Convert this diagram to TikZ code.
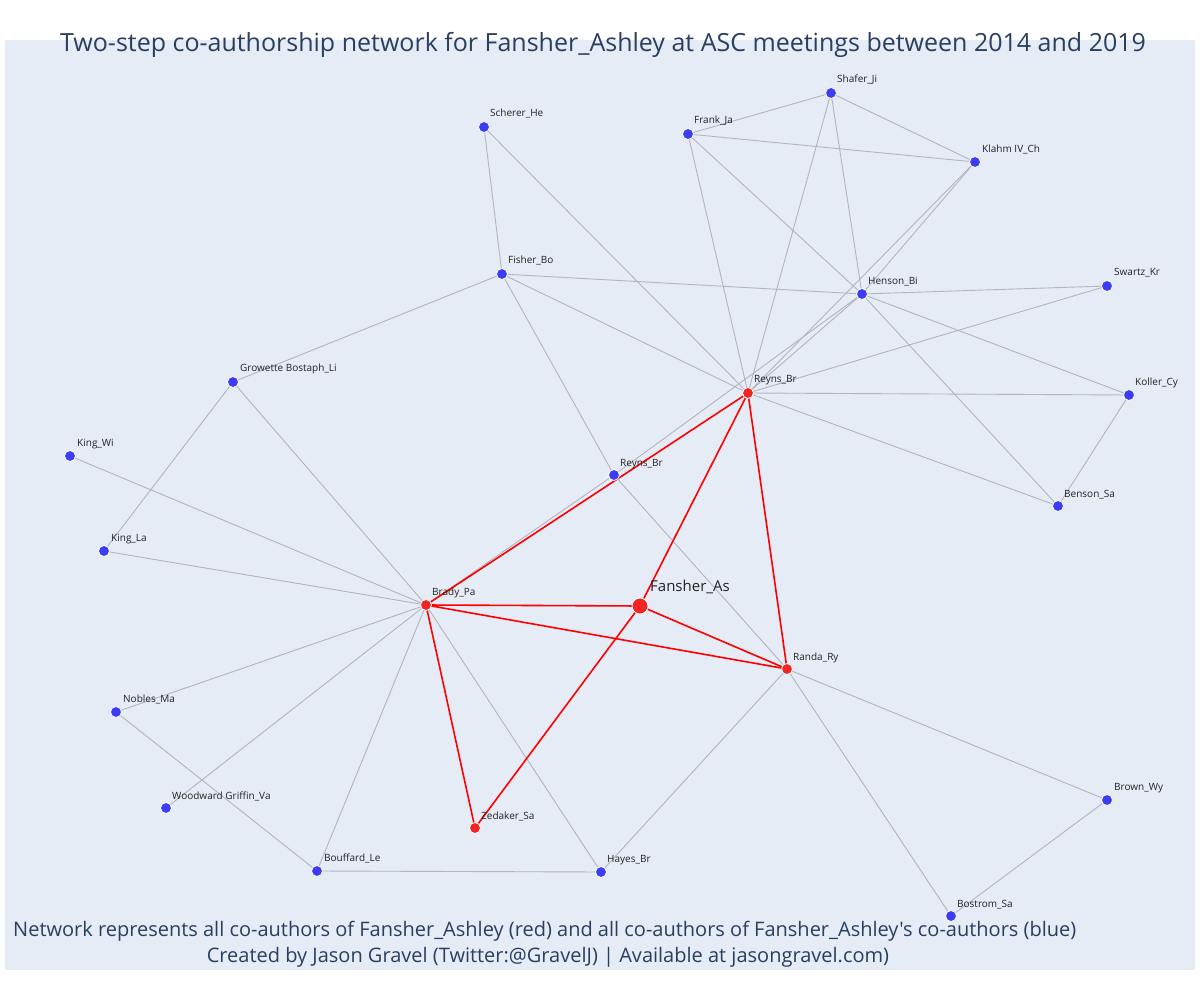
\documentclass[tikz,border=0pt]{standalone}
\usepackage{fontspec}
\setmainfont{Open Sans}[Ligatures=TeXOff]
\definecolor{bgcol}{HTML}{E5ECF6}
\definecolor{titlecol}{HTML}{2A3F5F}
\definecolor{edgegray}{RGB}{178,180,192}
\definecolor{bluenode}{RGB}{60,60,242}
\definecolor{rednode}{RGB}{242,36,36}
\definecolor{labcol}{HTML}{222222}
\pgfdeclarelayer{bg}
\pgfdeclarelayer{edges}
\pgfsetlayers{bg,edges,main}
\tikzset{
  bnode/.style={circle, fill=bluenode, draw=white, line width=0.8pt, minimum size=11pt, inner sep=0pt},
  rnode/.style={circle, fill=rednode, draw=white, line width=0.8pt, minimum size=11pt, inner sep=0pt},
  bignode/.style={circle, fill=rednode, draw=white, line width=0.8pt, minimum size=16pt, inner sep=0pt},
  lab/.style={anchor=base west, inner sep=0pt, text=labcol, font=\fontsize{10}{12}\selectfont},
  biglab/.style={anchor=base west, inner sep=0pt, text=labcol, font=\fontsize{15}{18}\selectfont},
  gedge/.style={draw=edgegray, line width=0.9pt},
  redge/.style={draw=red, line width=1.6pt},
  foot/.style={inner sep=0pt, text=titlecol, font=\fontsize{20}{24}\selectfont}
}
\begin{document}
\begin{tikzpicture}[x=1pt,y=-1pt]
\useasboundingbox (0,0) rectangle (1200,1000);
\begin{pgfonlayer}{bg}
\fill[bgcol] (5,40) rectangle (1195,970);
\end{pgfonlayer}
\node[text=titlecol, inner sep=0pt, font=\fontsize{25}{30}\selectfont] (title) at (603,45) {Two-step co-authorship network for Fansher\_Ashley at ASC meetings between 2014 and 2019};

% nodes
\node[bnode] (shafer) at (831,93) {};
\node[bnode] (scherer) at (484,127) {};
\node[bnode] (frank) at (688,134) {};
\node[bnode] (klahm) at (975,162) {};
\node[bnode] (fisher) at (502,274) {};
\node[bnode] (henson) at (862,294) {};
\node[bnode] (swartz) at (1107,286) {};
\node[bnode] (growette) at (233,382) {};
\node[rnode] (reynsr) at (748,393) {};
\node[bnode] (koller) at (1129,395) {};
\node[bnode] (kingwi) at (70,456) {};
\node[bnode] (reynsb) at (614,475) {};
\node[bnode] (benson) at (1058,506) {};
\node[bnode] (kingla) at (104,551) {};
\node[rnode] (brady) at (426,605) {};
\node[bignode] (fansher) at (640,606) {};
\node[rnode] (randa) at (787,669) {};
\node[bnode] (nobles) at (116,712) {};
\node[bnode] (brown) at (1107,800) {};
\node[bnode] (woodward) at (166,808) {};
\node[rnode] (zedaker) at (475,828) {};
\node[bnode] (bouffard) at (317,871) {};
\node[bnode] (hayes) at (601,872) {};
\node[bnode] (bostrom) at (951,916) {};

% labels
\node[lab] (lshafer) at (837,83) {Shafer\_Ji};
\node[lab] (lscherer) at (490,117) {Scherer\_He};
\node[lab] (lfrank) at (694,124) {Frank\_Ja};
\node[lab] (lklahm) at (982,153) {Klahm IV\_Ch};
\node[lab] (lfisher) at (508,264) {Fisher\_Bo};
\node[lab] (lhenson) at (868,285) {Henson\_Bi};
\node[lab] (lswartz) at (1114,276) {Swartz\_Kr};
\node[lab] (lgrowette) at (240,372) {Growette Bostaph\_Li};
\node[lab] (lreynsr) at (754,383) {Reyns\_Br};
\node[lab] (lkoller) at (1135,385) {Koller\_Cy};
\node[lab] (lkingwi) at (77,446) {King\_Wi};
\node[lab] (lreynsb) at (620,466) {Reyns\_Br};
\node[lab] (lbenson) at (1064,497) {Benson\_Sa};
\node[lab] (lkingla) at (111,541) {King\_La};
\node[lab] (lbrady) at (432,595) {Brady\_Pa};
\node[biglab] (lfansher) at (650,591) {Fansher\_As};
\node[lab] (lranda) at (793,660) {Randa\_Ry};
\node[lab] (lnobles) at (123,702) {Nobles\_Ma};
\node[lab] (lbrown) at (1114,790) {Brown\_Wy};
\node[lab] (lwoodward) at (172,799) {Woodward Griffin\_Va};
\node[lab] (lzedaker) at (481,819) {Zedaker\_Sa};
\node[lab] (lbouffard) at (324,861) {Bouffard\_Le};
\node[lab] (lhayes) at (607,862) {Hayes\_Br};
\node[lab] (lbostrom) at (957,907) {Bostrom\_Sa};

% footer
\node[foot, anchor=west] (foot1) at (13,931) {Network represents all co-authors of Fansher\_Ashley (red) and all co-authors of Fansher\_Ashley's co-authors (blue)};
\node[foot] (foot2) at (548,957) {Created by Jason Gravel (Twitter:@GravelJ) | Available at jasongravel.com)};

\begin{pgfonlayer}{edges}
% gray edges
\draw[gedge] (scherer.center) -- (fisher.center);
\draw[gedge] (scherer.center) -- (reynsr.center);
\draw[gedge] (frank.center) -- (shafer.center);
\draw[gedge] (frank.center) -- (klahm.center);
\draw[gedge] (frank.center) -- (reynsr.center);
\draw[gedge] (frank.center) -- (henson.center);
\draw[gedge] (shafer.center) -- (klahm.center);
\draw[gedge] (shafer.center) -- (reynsr.center);
\draw[gedge] (shafer.center) -- (henson.center);
\draw[gedge] (klahm.center) -- (henson.center);
\draw[gedge] (klahm.center) -- (reynsr.center);
\draw[gedge] (fisher.center) -- (henson.center);
\draw[gedge] (fisher.center) -- (reynsr.center);
\draw[gedge] (fisher.center) -- (reynsb.center);
\draw[gedge] (fisher.center) -- (growette.center);
\draw[gedge] (henson.center) -- (swartz.center);
\draw[gedge] (henson.center) -- (koller.center);
\draw[gedge] (henson.center) -- (benson.center);
\draw[gedge] (henson.center) -- (reynsr.center);
\draw[gedge] (henson.center) -- (reynsb.center);
\draw[gedge] (reynsr.center) -- (swartz.center);
\draw[gedge] (reynsr.center) -- (koller.center);
\draw[gedge] (reynsr.center) -- (benson.center);
\draw[gedge] (koller.center) -- (benson.center);
\draw[gedge] (reynsb.center) -- (brady.center);
\draw[gedge] (reynsb.center) -- (randa.center);
\draw[gedge] (brady.center) -- (growette.center);
\draw[gedge] (brady.center) -- (kingwi.center);
\draw[gedge] (brady.center) -- (kingla.center);
\draw[gedge] (brady.center) -- (nobles.center);
\draw[gedge] (brady.center) -- (woodward.center);
\draw[gedge] (brady.center) -- (bouffard.center);
\draw[gedge] (brady.center) -- (hayes.center);
\draw[gedge] (growette.center) -- (kingla.center);
\draw[gedge] (nobles.center) -- (bouffard.center);
\draw[gedge] (bouffard.center) -- (hayes.center);
\draw[gedge] (hayes.center) -- (randa.center);
\draw[gedge] (randa.center) -- (brown.center);
\draw[gedge] (randa.center) -- (bostrom.center);
\draw[gedge] (brown.center) -- (bostrom.center);
% red edges
\draw[redge] (brady.center) -- (fansher.center);
\draw[redge] (brady.center) -- (randa.center);
\draw[redge] (brady.center) -- (reynsr.center);
\draw[redge] (brady.center) -- (zedaker.center);
\draw[redge] (fansher.center) -- (reynsr.center);
\draw[redge] (fansher.center) -- (randa.center);
\draw[redge] (fansher.center) -- (zedaker.center);
\draw[redge] (reynsr.center) -- (randa.center);
\end{pgfonlayer}
\end{tikzpicture}
\end{document}
